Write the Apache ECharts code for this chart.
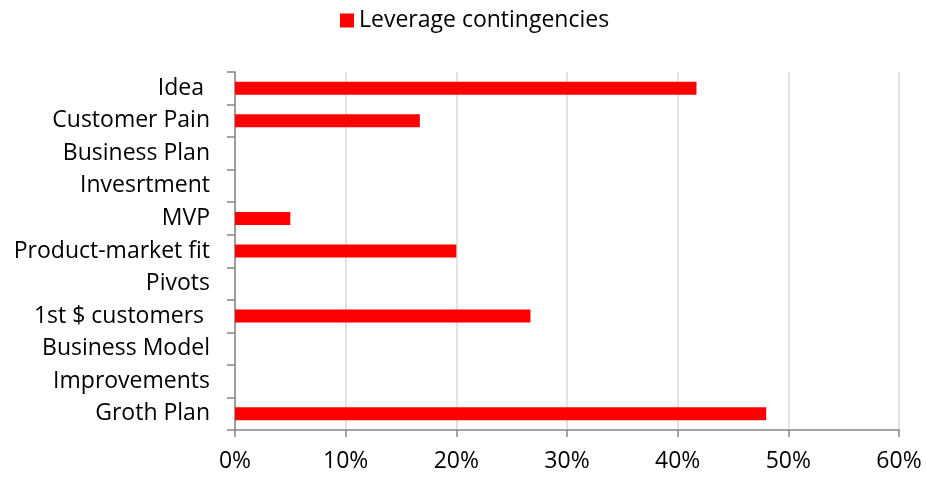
<!DOCTYPE html>
<html>
<head>
<meta charset="utf-8">
<script src="https://cdn.jsdelivr.net/npm/echarts@6/dist/echarts.min.js"></script>
<style>
  html, body { margin: 0; padding: 0; background: #fff; }
  #chart { width: 926px; height: 477px; }
</style>
</head>
<body>
<div id="chart"></div>
<script>
  const categories = ["Idea ", "Customer Pain", "Business Plan", "Invesrtment", "MVP", "Product-market fit",
    "Pivots", "1st $ customers ", "Business Model", "Improvements", "Groth Plan"]
  const seriesName = "Leverage contingencies"
  const values = [41.7, 16.7, 0, 0, 5, 20, 0, 26.7, 0, 0, 48]

  const font = "'Open Sans', sans-serif"

  const options = {
    animation: false,
    textStyle: { fontFamily: font },
    legend: {
      left: 335,
      top: 4,
      icon: "rect",
      itemWidth: 14,
      itemHeight: 14,
      itemGap: 10,
      textStyle: { fontFamily: font, fontSize: 23, color: "#000" },
      data: [seriesName],
    },
    grid: {
      left: 235,
      right: 27,
      top: 72,
      bottom: 47,
    },
    xAxis: {
      type: "value",
      min: 0,
      max: 60,
      interval: 10,
      axisLine: { show: true, lineStyle: { color: "#868686", width: 1.5 } },
      axisTick: { show: true, length: 7, lineStyle: { color: "#868686", width: 1.5 } },
      splitLine: { show: true, lineStyle: { color: "#d9d9d9", width: 1.5 } },
      axisLabel: {
        formatter: "{value}%",
        fontFamily: font,
        fontSize: 23,
        color: "#000",
        margin: 20,
      },
    },
    yAxis: {
      type: "category",
      inverse: true,
      data: categories,
      axisLine: { show: true, lineStyle: { color: "#868686", width: 1.5 } },
      axisTick: { show: true, length: 8, lineStyle: { color: "#868686", width: 1.5 } },
      axisLabel: {
        fontFamily: font,
        fontSize: 23,
        color: "#000",
        margin: 25,
      },
    },
    series: [
      {
        name: seriesName,
        type: "bar",
        data: values,
        barWidth: 13,
        itemStyle: { color: "#ff0000" },
      },
    ],
  };

  let dom = document.getElementById("chart")
  let myChart = echarts.init(dom);
  myChart.setOption(options)
  window.addEventListener("resize", () => myChart.resize(), false);
</script>
</body>
</html>
